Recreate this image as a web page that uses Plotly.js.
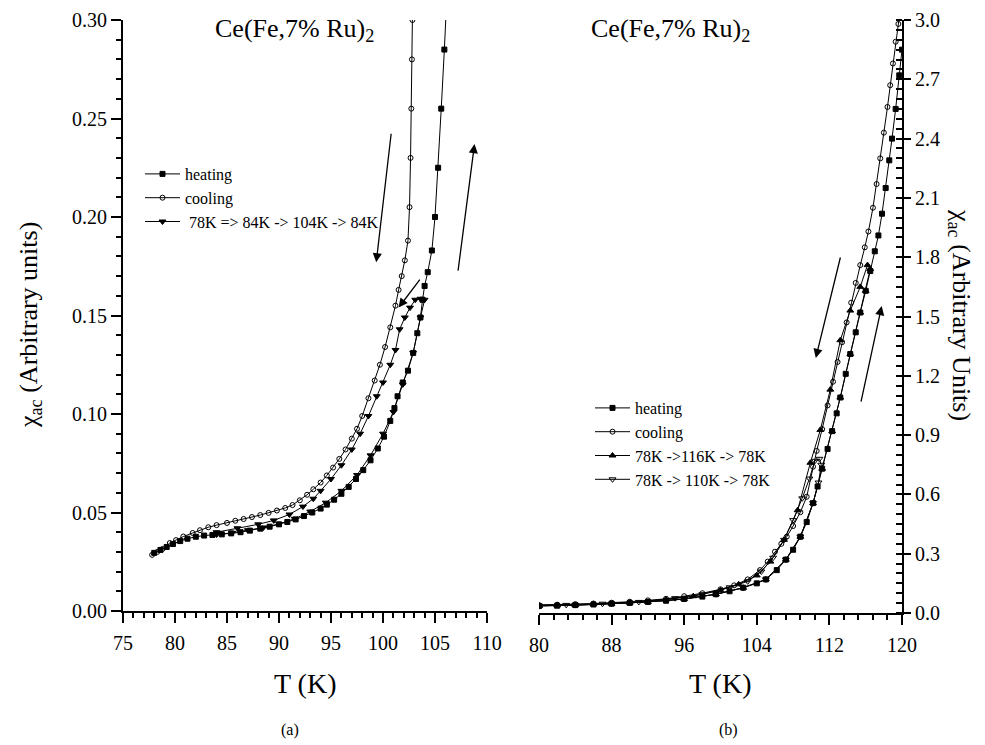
<!DOCTYPE html>
<html>
<head>
<meta charset="utf-8">
<script src="https://cdn.plot.ly/plotly-3.0.1.min.js"></script>
<style>html,body{margin:0;padding:0;background:#fff;}#chart{width:985px;height:745px;}</style>
</head>
<body>
<div id="chart"></div>
<script>
// ---------- Panel (a) data ----------
var heatA_T = [78.0, 78.6, 79.2, 79.8, 80.5, 81.2, 82.0, 82.8, 83.6, 84.5, 85.4, 86.3, 87.2, 88.2, 89.1, 90.0, 90.8, 91.6, 92.4, 93.2, 94.0, 94.6, 95.3, 96.0, 96.7, 97.4, 98.1, 98.8, 99.5, 100.1, 100.7, 101.1, 101.4, 101.9, 102.4, 102.9, 103.3, 103.6, 103.8, 104.0, 104.3, 104.7, 105.0, 105.3, 105.6, 105.9, 106.1, 106.3];
var heatA_chi = [0.0295, 0.0310, 0.0325, 0.0340, 0.0355, 0.0367, 0.0377, 0.0383, 0.0386, 0.0389, 0.0394, 0.0400, 0.0408, 0.0418, 0.0428, 0.0440, 0.0452, 0.0465, 0.0482, 0.0500, 0.0520, 0.0540, 0.0565, 0.0595, 0.0630, 0.0670, 0.0715, 0.0765, 0.0825, 0.0885, 0.0965, 0.1030, 0.1090, 0.1160, 0.1220, 0.1310, 0.1410, 0.1490, 0.1580, 0.1650, 0.1720, 0.1830, 0.2000, 0.2250, 0.2550, 0.2850, 0.3050, 0.3300];

var coolA_T = [77.8, 78.3, 78.8, 79.5, 80.1, 80.8, 81.7, 82.4, 83.2, 84.0, 85.0, 85.8, 86.6, 87.4, 88.2, 89.0, 89.8, 90.6, 91.3, 92.0, 92.7, 93.3, 94.0, 94.6, 95.2, 95.8, 96.4, 97.0, 97.5, 98.0, 98.6, 99.2, 99.7, 100.2, 100.7, 101.2, 101.5, 101.8, 102.1, 102.4, 102.55, 102.65, 102.72, 102.78, 102.83, 102.9];
var coolA_chi = [0.0285, 0.0300, 0.0315, 0.0345, 0.0360, 0.0378, 0.0396, 0.0410, 0.0425, 0.0436, 0.0447, 0.0458, 0.0467, 0.0477, 0.0487, 0.0498, 0.0510, 0.0523, 0.0538, 0.0562, 0.0590, 0.0618, 0.0652, 0.0688, 0.0728, 0.0772, 0.0820, 0.0875, 0.0925, 0.0990, 0.1080, 0.1170, 0.1250, 0.1340, 0.1440, 0.1550, 0.1630, 0.1700, 0.1780, 0.1880, 0.2050, 0.2300, 0.2550, 0.2800, 0.3000, 0.3300];

var triA_T = [84.0, 85.5, 87.0, 88.5, 90.0, 91.5, 93.0, 94.5, 96.0, 97.5, 98.8, 100.0, 101.0, 101.9, 102.9, 103.6, 104.0, 103.6, 103.1, 102.6, 102.1, 101.6, 101.2, 100.7, 100.0, 99.4, 98.6, 97.8, 97.0, 96.0, 95.0, 94.0, 93.3, 92.3, 91.0, 89.5, 88.0, 86.0, 84.0];
var triA_chi = [0.0388, 0.0397, 0.0410, 0.0424, 0.0442, 0.0468, 0.0505, 0.0550, 0.0610, 0.0690, 0.0790, 0.0900, 0.1010, 0.1150, 0.1310, 0.1490, 0.1580, 0.1585, 0.1580, 0.1540, 0.1490, 0.1430, 0.1325, 0.1250, 0.1160, 0.1090, 0.0990, 0.0900, 0.0820, 0.0740, 0.0670, 0.0610, 0.0570, 0.0530, 0.0490, 0.0460, 0.0440, 0.0420, 0.0400];

// ---------- Panel (b) data ----------
var heatB_T = [78, 80, 82, 84, 86, 88, 90, 92, 94, 96, 98, 99.5, 101, 102.5, 104, 105, 106.2, 107.2, 108, 108.8, 109.5, 110.2, 110.7, 111.2, 111.8, 112.3, 112.8, 113.2, 113.8, 114.3, 114.9, 115.4, 116.0, 116.5, 117.0, 117.4, 117.8, 118.2, 118.6, 118.9, 119.3, 119.7, 120.0];
var heatB_chi = [0.034, 0.035, 0.037, 0.040, 0.043, 0.047, 0.051, 0.056, 0.062, 0.071, 0.083, 0.095, 0.110, 0.128, 0.150, 0.170, 0.217, 0.270, 0.320, 0.386, 0.460, 0.556, 0.640, 0.730, 0.830, 0.920, 1.010, 1.090, 1.210, 1.310, 1.420, 1.520, 1.630, 1.730, 1.830, 1.910, 2.020, 2.150, 2.290, 2.400, 2.550, 2.720, 2.850];

var coolB_T = [78, 80, 82, 84, 86, 88, 90, 92, 94, 96, 98, 100, 101.5, 103, 104.35, 105.2, 106.0, 106.7, 107.3, 108.0, 108.8, 109.5, 110.2, 110.6, 111.2, 111.8, 112.4, 112.9, 113.4, 113.9, 114.4, 114.9, 115.4, 115.9, 116.3, 116.8, 117.2, 117.6, 118.0, 118.4, 118.7, 119.0, 119.3, 119.6, 119.8];
var coolB_chi = [0.039, 0.040, 0.042, 0.045, 0.048, 0.052, 0.057, 0.064, 0.072, 0.085, 0.100, 0.120, 0.140, 0.170, 0.217, 0.260, 0.310, 0.350, 0.386, 0.440, 0.510, 0.588, 0.740, 0.820, 0.930, 1.050, 1.170, 1.270, 1.370, 1.470, 1.570, 1.670, 1.760, 1.850, 1.930, 2.050, 2.170, 2.300, 2.430, 2.560, 2.670, 2.780, 2.890, 2.980, 3.050];

var tri116_T = [78, 80, 84, 88, 92, 96, 99.5, 102.5, 105, 107.2, 108.8, 110.2, 111.2, 112.3, 113.2, 114.3, 115.4, 116.0, 116.5, 116.2, 115.4, 114.3, 113.2, 112.1, 111.0, 109.9, 108.5, 107.0, 105.5, 104.0, 102.0, 100.0, 97.0, 94.0, 90.0, 86.0, 82.0, 80.0, 78.0];
var tri116_chi = [0.034, 0.035, 0.040, 0.047, 0.056, 0.071, 0.095, 0.128, 0.170, 0.270, 0.386, 0.556, 0.730, 0.920, 1.090, 1.310, 1.520, 1.630, 1.740, 1.760, 1.650, 1.530, 1.380, 1.130, 0.926, 0.760, 0.520, 0.370, 0.260, 0.190, 0.145, 0.115, 0.085, 0.068, 0.052, 0.044, 0.039, 0.037, 0.036];

var tri110_T = [78, 80, 84, 88, 92, 96, 99.5, 102.5, 105, 107.2, 108.8, 110.2, 110.8, 111.1, 110.9, 110.4, 109.8, 109.0, 108.0, 107.0, 105.8, 104.5, 103.0, 101.0, 98.0, 95.0, 91.0, 87.0, 83.0, 80.0, 78.0];
var tri110_chi = [0.034, 0.035, 0.040, 0.047, 0.056, 0.071, 0.095, 0.128, 0.170, 0.270, 0.386, 0.556, 0.660, 0.750, 0.780, 0.770, 0.680, 0.580, 0.470, 0.370, 0.280, 0.210, 0.160, 0.130, 0.095, 0.075, 0.056, 0.047, 0.041, 0.038, 0.037];

// ---------- text ----------
var titleText = 'Ce(Fe,7% Ru)<sub>2</sub>';
var xTitleText = 'T (K)';
var yTitleA = 'χ<sub>ac</sub> (Arbitrary units)';
var yTitleB = 'χ<sub>ac</sub> (Arbitrary Units)';
var legA = ['heating', 'cooling', ' 78K => 84K -> 104K -> 84K'];
var legB = ['heating', 'cooling', '78K ->116K -> 78K', '78K -> 110K -> 78K'];

var FONT = 'Liberation Serif, Times New Roman, serif';
var W = 985, H = 745;
function px(x){return x / W;}
function py(y){return 1 - y / H;}

function tr(x, y, name, sym, size, xa, ya, leg){
  return {x: x, y: y, name: name, type: 'scatter', mode: 'lines+markers',
    xaxis: xa, yaxis: ya, legend: leg,
    line: {color: '#000', width: 1},
    marker: {symbol: sym, size: size, color: '#000', line: {color: '#000', width: 1}}};
}

var data = [
  tr(heatA_T, heatA_chi, legA[0], 'square', 5, 'x', 'y', 'legend'),
  tr(coolA_T, coolA_chi, legA[1], 'circle-open', 5, 'x', 'y', 'legend'),
  tr(triA_T, triA_chi, legA[2], 'triangle-down', 6, 'x', 'y', 'legend'),
  tr(heatB_T, heatB_chi, legB[0], 'square', 5, 'x2', 'y2', 'legend2'),
  tr(coolB_T, coolB_chi, legB[1], 'circle-open', 5, 'x2', 'y2', 'legend2'),
  tr(tri116_T, tri116_chi, legB[2], 'triangle-up', 6, 'x2', 'y2', 'legend2'),
  tr(tri110_T, tri110_chi, legB[3], 'triangle-down-open', 6, 'x2', 'y2', 'legend2')
];

var axBase = {showgrid: false, zeroline: false, showline: true, linecolor: '#000', linewidth: 2,
  ticks: 'outside', ticklen: 10, tickwidth: 2, tickcolor: '#000',
  tickfont: {family: FONT, size: 20, color: '#000'}, fixedrange: true};
function ax(o){ var r = JSON.parse(JSON.stringify(axBase)); for (var k in o) r[k] = o[k]; return r; }

function arrow(xa, ya, hx, hy, tx, ty){
  return {xref: xa, yref: ya, axref: xa, ayref: ya, x: hx, y: hy, ax: tx, ay: ty,
    text: '', showarrow: true, arrowhead: 2, arrowsize: 1.4, arrowwidth: 1.3, arrowcolor: '#000', standoff: 0, startstandoff: 0};
}
function label(x, y, text, size, angle){
  return {xref: 'paper', yref: 'paper', x: px(x), y: py(y), text: text, showarrow: false,
    xanchor: 'center', yanchor: 'middle', textangle: angle || 0,
    font: {family: FONT, size: size, color: '#000'}};
}

var layout = {
  width: W, height: H, margin: {l: 0, r: 0, t: 0, b: 0},
  paper_bgcolor: '#fff', plot_bgcolor: 'rgba(0,0,0,0)',
  font: {family: FONT, color: '#000'},
  xaxis: ax({domain: [px(123), px(487)], range: [75, 110], tick0: 75, dtick: 5, anchor: 'y',
    ticklabelstandoff: 3,
    minor: {tick0: 75, dtick: 1, ticks: 'outside', ticklen: 5, tickwidth: 2, tickcolor: '#000'}}),
  yaxis: ax({domain: [py(611), py(20)], range: [0, 0.30], tick0: 0, dtick: 0.05, tickformat: '.2f', anchor: 'x',
    minor: {tick0: 0, dtick: 0.01, ticks: 'outside', ticklen: 5, tickwidth: 2, tickcolor: '#000'}}),
  xaxis2: ax({domain: [px(539), px(902)], range: [80, 120], tick0: 80, dtick: 8, anchor: 'y2',
    ticklabelstandoff: 3,
    minor: {tick0: 80, dtick: 1.6, ticks: 'outside', ticklen: 5, tickwidth: 2, tickcolor: '#000'}}),
  yaxis2: ax({domain: [py(613), py(20)], range: [0, 3], tick0: 0, dtick: 0.3, tickformat: '.1f', anchor: 'x2', side: 'right',
    ticklen: 7,
    minor: {tick0: 0, dtick: 0.05, ticks: 'inside', ticklen: 6, tickwidth: 2, tickcolor: '#000'}}),
  showlegend: true,
  legend: {x: px(140), y: py(157), xanchor: 'left', yanchor: 'top', bgcolor: 'rgba(0,0,0,0)',
    font: {family: FONT, size: 16, color: '#000'}, tracegroupgap: 0, itemwidth: 35},
  legend2: {x: px(590), y: py(391), xanchor: 'left', yanchor: 'top', bgcolor: 'rgba(0,0,0,0)',
    font: {family: FONT, size: 16, color: '#000'}, tracegroupgap: 0, itemwidth: 35},
  annotations: [
    label(294, 30, titleText, 26),
    label(670, 30, titleText, 26),
    label(305, 683, xTitleText, 28),
    label(720, 683, xTitleText, 28),
    label(30, 325, yTitleA, 26, -90),
    label(960, 315, yTitleB, 26, 90),
    label(290, 730, '(a)', 16),
    label(728, 730, '(b)', 16),
    arrow('x', 'y', 99.35, 0.177, 100.8, 0.243),
    arrow('x', 'y', 108.8, 0.237, 107.2, 0.172),
    arrow('x', 'y', 101.5, 0.154, 103.65, 0.169),
    arrow('x2', 'y2', 110.5, 1.29, 113.25, 1.806),
    arrow('x2', 'y2', 117.76, 1.553, 115.45, 1.062)
  ]
};

Plotly.newPlot('chart', data, layout, {displayModeBar: false, staticPlot: true});
</script>
</body>
</html>
